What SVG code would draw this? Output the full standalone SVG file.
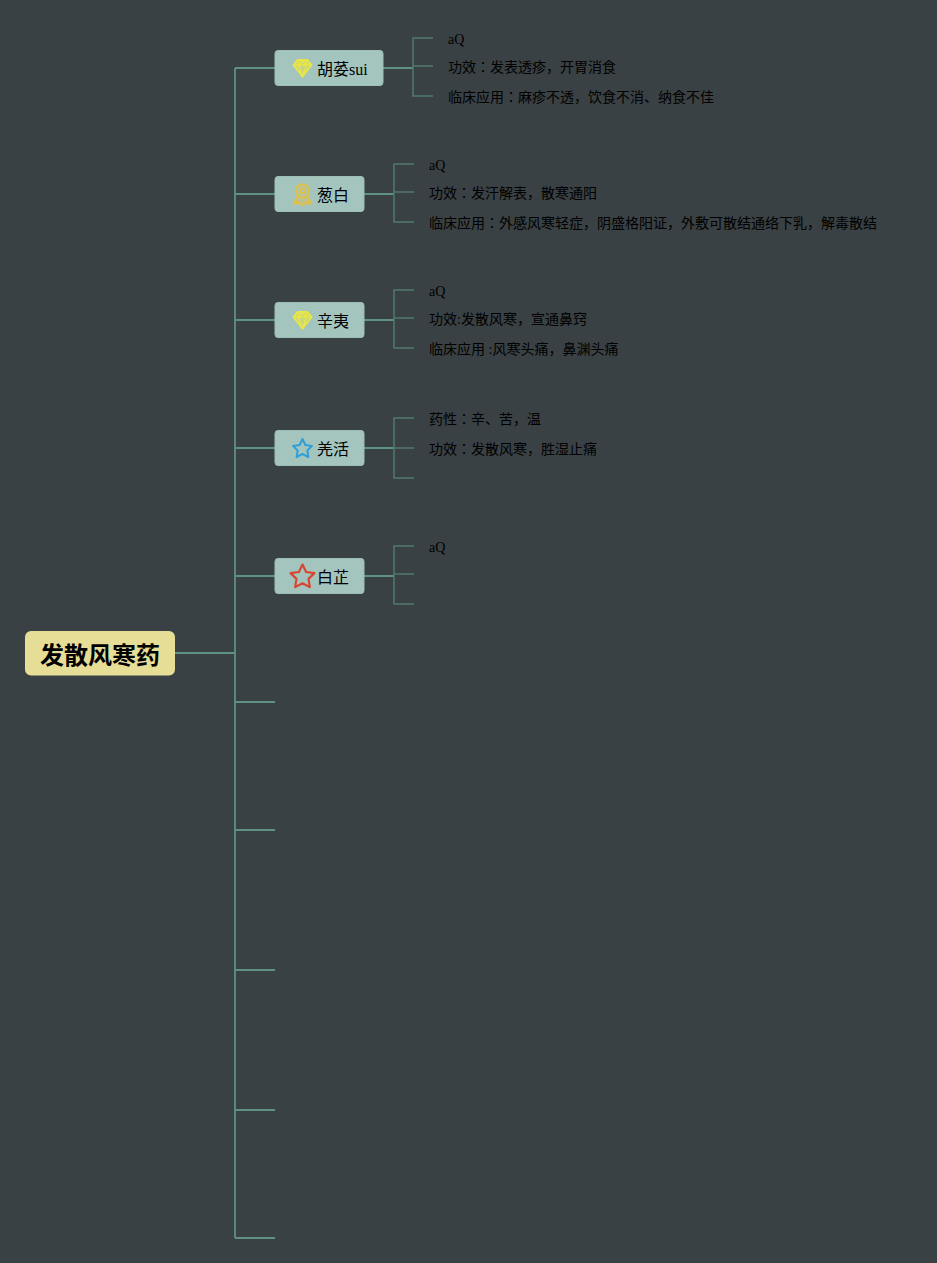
<svg xmlns="http://www.w3.org/2000/svg" width="937" height="1263" viewBox="0 0 937 1263">
<style>
text{font-family:"Liberation Serif","Noto Sans CJK JP",sans-serif;fill:#000}
.t{font-size:14px}
.n{font-size:16px}
.b{fill:#a3c5be;stroke:#9cbfb8;stroke-width:1}
.c{fill:none;stroke:#5c9183;stroke-width:1.8}
.l{fill:none;stroke:#50786f;stroke-width:1.5}
.g{fill:none;stroke:#e9e646;stroke-width:2;stroke-linejoin:round}
</style>
<defs>
<g id="gem"><path d="M-5-8H5L9-3 0 8.500-9-3Z" style="fill:#e9e646;fill-opacity:.5;stroke:#e9e646;stroke-width:2;stroke-linejoin:round"/><path d="M-9-3H9M-4-3 0 8.500 4-3M-5-8-3-3 0-8 3-3 5-8" class="g" style="stroke-width:1.500"/></g>
<path id="star" stroke-linejoin="round" d="M0-10 2.900-4 9.500-3.100 4.800 1.500 5.900 8.100 0 5-5.900 8.100-4.800 1.500-9.500-3.100-2.900-4Z"/>
</defs>
<rect width="937" height="1263" fill="#3a4144"/>
<g id="connectors">
<path class="c" d="M175 653H235M235 68V1238M235 68H275M235 194H275M235 320H275M235 448H275M235 576H275M235 702H275M235 830H275M235 970H275M235 1110H275M235 1238H275"/>
<path class="c" d="M383 68H413M364 194H394M364 320H394M364 448H394M364 576H394"/>
<path class="l" d="M433 38H413V96H433M413 66H433"/>
<path class="l" d="M414 164H394V222H414M394 192H414"/>
<path class="l" d="M414 290H394V348H414M394 318H414"/>
<path class="l" d="M414 418H394V478H414M394 448H414"/>
<path class="l" d="M414 546H394V604H414M394 574H414"/>
</g>
<g id="root"><rect x="25" y="631" width="150" height="44.500" rx="6" fill="#e6dd97"/><text x="40" y="664" style="font-size:24px;font-weight:700">发散风寒药</text></g>
<g id="n1"><rect class="b" x="275" y="50.500" width="108" height="35" rx="3"/><use href="#gem" x="302.500" y="68"/><text class="n" x="317" y="75">胡荽sui</text></g>
<g id="n2"><rect class="b" x="275" y="176.500" width="89" height="35" rx="3"/>
<g fill="none" stroke="#dcc050" stroke-width="2.600"><circle cx="302.500" cy="191" r="6.500"/><circle cx="302.500" cy="191" r="2.500"/><path d="M297 197 294.500 203.500 298.500 202.500 301.500 204.500 303.500 204.500 306.500 202.500 310.500 203.500 308 197" fill="#dcc050" fill-opacity=".35"/></g>
<text class="n" x="317" y="201">葱白</text></g>
<g id="n3"><rect class="b" x="275" y="302.500" width="89" height="35" rx="3"/><use href="#gem" x="302.500" y="320"/><text class="n" x="317" y="327">辛夷</text></g>
<g id="n4"><rect class="b" x="275" y="430.500" width="89" height="35" rx="3"/><use href="#star" x="302.500" y="449" fill="none" stroke="#2f9fd8" stroke-width="2"/><text class="n" x="317" y="455">羌活</text></g>
<g id="n5"><rect class="b" x="275" y="558.500" width="89" height="35" rx="3"/><use href="#star" transform="translate(302.500 577) scale(1.250)" fill="none" stroke="#d9432f" stroke-width="1.700"/><text class="n" x="317" y="583">白芷</text></g>
<g id="leaves">
<text class="t" x="448" y="44">aQ</text>
<text class="t" x="448" y="72">功效：发表透疹，开胃消食</text>
<text class="t" x="448" y="102">临床应用：麻疹不透，饮食不消、纳食不佳</text>
<text class="t" x="429" y="170">aQ</text>
<text class="t" x="429" y="198">功效：发汗解表，散寒通阳</text>
<text class="t" x="429" y="228">临床应用：外感风寒轻症，阴盛格阳证，外敷可散结通络下乳，解毒散结</text>
<text class="t" x="429" y="296">aQ</text>
<text class="t" x="429" y="324">功效:发散风寒，宣通鼻窍</text>
<text class="t" x="429" y="354">临床应用 :风寒头痛，鼻渊头痛</text>
<text class="t" x="429" y="424">药性：辛、苦，温</text>
<text class="t" x="429" y="454">功效：发散风寒，胜湿止痛</text>
<text class="t" x="429" y="552">aQ</text>
</g>
</svg>
